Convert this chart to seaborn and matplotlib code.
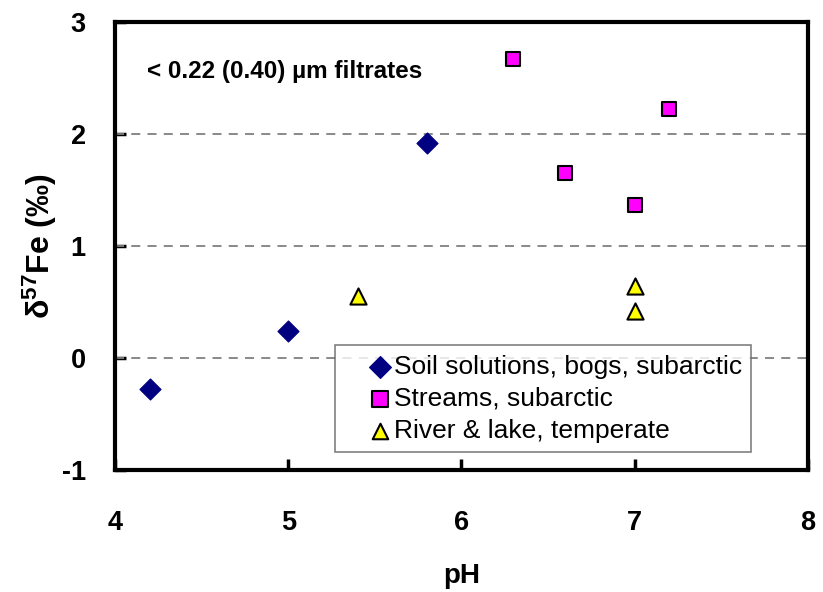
import pandas as pd
import matplotlib
matplotlib.use("Agg")
import matplotlib.pyplot as plt
import seaborn as sns

# data
soil_ph = [4.2, 5.0, 5.8]
soil_d57 = [-0.28, 0.24, 1.92]
stream_ph = [6.3, 6.6, 7.0, 7.2]
stream_d57 = [2.67, 1.65, 1.37, 2.22]
river_ph = [5.4, 7.0, 7.0]
river_d57 = [0.55, 0.64, 0.42]

series_names = ["Soil solutions, bogs, subarctic", "Streams, subarctic", "River & lake, temperate"]
x_ticks = [4, 5, 6, 7, 8]
y_ticks = [-1, 0, 1, 2, 3]
grid_levels = [0, 1, 2]


def build_frame():
    rows = []
    for name, xs, ys in zip(series_names,
                            [soil_ph, stream_ph, river_ph],
                            [soil_d57, stream_d57, river_d57]):
        for x, y in zip(xs, ys):
            rows.append({"pH": x, "d57Fe": y, "group": name})
    return pd.DataFrame(rows)


def main():
    sns.set_style("white")
    plt.rcParams["font.family"] = ["Liberation Sans", "DejaVu Sans"]
    plt.rcParams["mathtext.fontset"] = "custom"
    plt.rcParams["mathtext.rm"] = "Liberation Sans:bold"
    plt.rcParams["mathtext.bf"] = "Liberation Sans:bold"
    plt.rcParams["mathtext.default"] = "bf"
    plt.rcParams["axes.unicode_minus"] = False
    for key in ["text.color", "axes.labelcolor", "xtick.color", "ytick.color"]:
        plt.rcParams[key] = "black"

    df = build_frame()

    fig = plt.figure(figsize=(8.23, 5.92), dpi=100)
    ax = fig.add_axes([0.1397, 0.206, 0.842, 0.757])

    for lv in grid_levels:
        ax.axhline(lv, color="#808080", lw=1.3, ls=(0, (5, 4)), zorder=1)

    styles = {
        series_names[0]: dict(marker="D", color="#000080", edgecolor="#000080", s=115, lw=0.8),
        series_names[1]: dict(marker="s", color="#FF00FF", edgecolor="black", s=100, lw=1.5),
        series_names[2]: dict(marker="^", color="#FFFF00", edgecolor="black", s=135, lw=1.5),
    }
    for name in series_names:
        st = styles[name]
        sub = df[df["group"] == name]
        sns.scatterplot(data=sub, x="pH", y="d57Fe", ax=ax, label=name,
                        marker=st["marker"], color=st["color"],
                        edgecolor=st["edgecolor"], s=st["s"], linewidth=st["lw"],
                        zorder=3)

    ax.set_xlim(4, 8)
    ax.set_ylim(-1, 3)
    ax.set_xticks(x_ticks)
    ax.set_yticks(y_ticks)
    ax.tick_params(axis="both", direction="in", length=8, width=2.5,
                   labelsize=19.5, left=True, bottom=True)
    ax.tick_params(axis="x", pad=29)
    ax.tick_params(axis="y", pad=21)
    for lab in ax.get_xticklabels() + ax.get_yticklabels():
        lab.set_fontweight("bold")

    for sp in ax.spines.values():
        sp.set_visible(True)
        sp.set_linewidth(3)
        sp.set_color("black")

    ax.set_xlabel("pH", fontsize=20, fontweight="bold", labelpad=19)
    ax.set_ylabel(r"δ$^{57}$Fe (‰)", fontsize=23, fontweight="bold", labelpad=2)

    ax.text(0.046, 0.89, "< 0.22 (0.40) µm filtrates", transform=ax.transAxes,
            fontsize=17.5, fontweight="bold", va="center", ha="left")

    leg = ax.legend(loc="upper left", bbox_to_anchor=(0.317, 0.278),
                    frameon=True, fancybox=False, fontsize=19,
                    handletextpad=-0.8, borderpad=0.35, labelspacing=0.3,
                    handlelength=2.7, borderaxespad=0)
    leg.get_frame().set_edgecolor("#606060")
    leg.get_frame().set_linewidth(1.2)
    for h in leg.legend_handles:
        h.set_sizes([125])

    fig.savefig("out.png", dpi=100)


if __name__ == "__main__":
    main()
